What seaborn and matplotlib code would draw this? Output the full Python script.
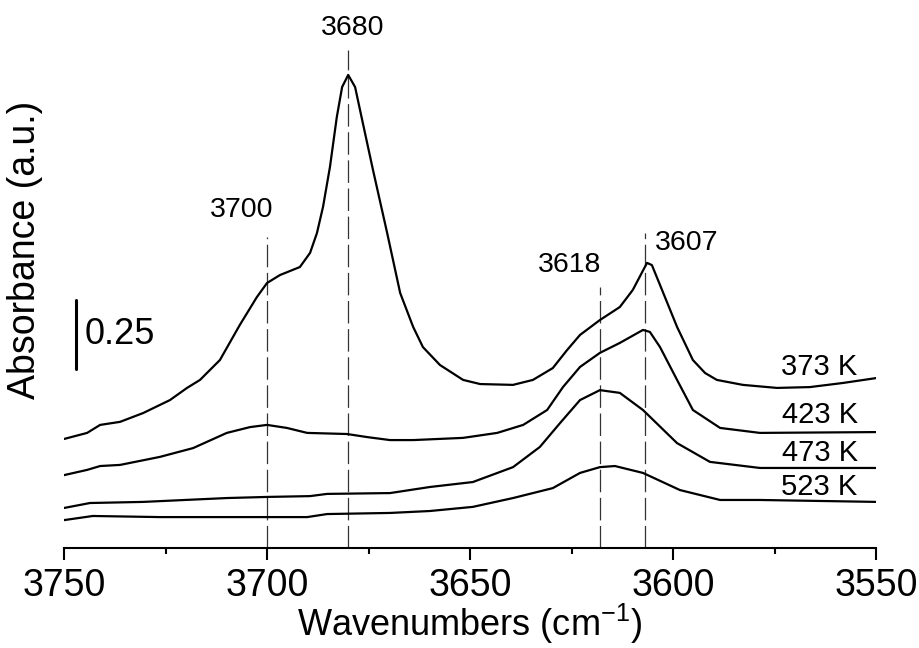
import numpy as np
import pandas as pd
import matplotlib
matplotlib.use("Agg")
import matplotlib.pyplot as plt
import seaborn as sns

# ---------------- data ----------------
wn_373 = [3750.0, 3744.3, 3741.1, 3736.2, 3730.5, 3723.9, 3719.7, 3716.5, 3711.6, 3706.7,
          3702.5, 3700.0, 3696.8, 3691.9, 3689.4, 3687.7, 3686.2, 3684.5, 3682.8, 3681.5,
          3680.0, 3678.3, 3676.4, 3673.9, 3670.4, 3667.2, 3664.0, 3661.6, 3657.4, 3651.7,
          3647.5, 3639.4, 3634.5, 3629.6, 3626.1, 3622.9, 3618.0, 3613.1, 3609.9, 3606.4,
          3605.2, 3603.2, 3599.0, 3595.1, 3592.1, 3589.2, 3582.8, 3574.4, 3566.3, 3558.1,
          3549.8]
ab_373 = [0.395, 0.417, 0.446, 0.457, 0.489, 0.536, 0.580, 0.609, 0.681, 0.808,
          0.909, 0.960, 0.989, 1.018, 1.069, 1.141, 1.236, 1.380, 1.562, 1.670,
          1.714, 1.670, 1.540, 1.370, 1.141, 0.924, 0.801, 0.728, 0.663, 0.609,
          0.594, 0.591, 0.609, 0.652, 0.717, 0.772, 0.826, 0.873, 0.935, 1.033,
          1.025, 0.953, 0.801, 0.681, 0.634, 0.609, 0.591, 0.580, 0.583, 0.598,
          0.616]

wn_423 = [3750.0, 3744.3, 3741.1, 3736.2, 3726.4, 3718.2, 3709.9, 3704.2, 3700.0, 3695.1,
          3690.1, 3680.3, 3675.4, 3669.7, 3664.0, 3651.7, 3643.3, 3636.9, 3631.0, 3627.1,
          3622.9, 3618.0, 3613.1, 3607.4, 3605.7, 3603.2, 3599.0, 3595.1, 3588.4, 3578.6,
          3549.8]
ab_423 = [0.264, 0.283, 0.297, 0.301, 0.330, 0.362, 0.417, 0.438, 0.446, 0.435,
          0.417, 0.413, 0.402, 0.391, 0.391, 0.399, 0.417, 0.446, 0.500, 0.583,
          0.656, 0.707, 0.743, 0.790, 0.783, 0.728, 0.609, 0.500, 0.435, 0.417,
          0.420]

wn_473 = [3750.0, 3743.6, 3730.5, 3709.9, 3700.0, 3689.4, 3685.2, 3669.7, 3659.9, 3649.3,
          3639.4, 3632.8, 3627.8, 3622.9, 3618.0, 3613.1, 3607.4, 3599.0, 3590.9, 3578.6,
          3549.8]
ab_473 = [0.145, 0.163, 0.167, 0.181, 0.185, 0.188, 0.196, 0.199, 0.221, 0.239,
          0.293, 0.366, 0.453, 0.536, 0.572, 0.562, 0.500, 0.380, 0.312, 0.290,
          0.290]

wn_523 = [3750.0, 3742.9, 3726.4, 3690.1, 3685.2, 3669.7, 3659.9, 3649.3, 3639.4, 3629.6,
          3622.9, 3618.0, 3614.3, 3607.4, 3598.3, 3588.4, 3578.6, 3549.8]
ab_523 = [0.101, 0.116, 0.112, 0.112, 0.123, 0.127, 0.134, 0.149, 0.181, 0.217,
          0.272, 0.293, 0.297, 0.272, 0.210, 0.174, 0.174, 0.167]

temps = ["373 K", "423 K", "473 K", "523 K"]
temp_label_y = [0.656, 0.482, 0.344, 0.221]

peak_pos = [3700, 3680, 3618, 3607]
peak_line_top = [1.127, 1.804, 0.946, 1.141]
peak_label_x = [3706.2, 3678.8, 3625.4, 3596.6]
peak_label_y = [1.225, 1.884, 1.025, 1.105]

x_ticks = [3750, 3700, 3650, 3600, 3550]
x_minor = [3725, 3675, 3625, 3575]

scale_bar_x = 3747.0
scale_bar_y = (0.649, 0.899)   # 0.25 a.u.
scale_bar_text = "0.25"

# ---------------- build table ----------------
frames = []
for t, w, a in zip(temps, [wn_373, wn_423, wn_473, wn_523], [ab_373, ab_423, ab_473, ab_523]):
    frames.append(pd.DataFrame({"wn": w, "ab": a, "T": t}))
df = pd.concat(frames, ignore_index=True)

# ---------------- figure ----------------
sns.set_theme(style="white")
plt.rcParams["font.family"] = ["Liberation Sans", "DejaVu Sans"]
plt.rcParams["mathtext.fontset"] = "custom"
plt.rcParams["mathtext.rm"] = "Liberation Sans"
plt.rcParams["mathtext.it"] = "Liberation Sans:italic"
plt.rcParams["text.color"] = "black"
plt.rcParams["axes.labelcolor"] = "black"
plt.rcParams["xtick.color"] = "black"
plt.rcParams["xtick.labelcolor"] = "black"

fig = plt.figure(figsize=(9.2, 6.48), dpi=100)
ax = fig.add_axes([64 / 920, 100 / 648, 812 / 920, 528 / 648])

sns.lineplot(data=df, x="wn", y="ab", hue="T", palette=["black"] * 4,
             legend=False, linewidth=1.6, sort=False, estimator=None, ax=ax)

ax.set_xlim(3750, 3550)
ax.set_ylim(0, 1.913)

# dashed peak markers
for p, top in zip(peak_pos, peak_line_top):
    ax.plot([p, p], [0, top], color="#333333", linewidth=0.9,
            linestyle=(0, (18, 4.5)), zorder=1)
for p, lx, ly in zip(peak_pos, peak_label_x, peak_label_y):
    ax.text(lx, ly, str(p), ha="center", va="center", fontsize=20.5, color="black")

# temperature labels
for t, ty in zip(temps, temp_label_y):
    ax.text(3554.5, ty, t, ha="right", va="center", fontsize=21, color="black")

# scale bar
ax.plot([scale_bar_x, scale_bar_x], list(scale_bar_y), color="black", linewidth=2.2)
ax.text(scale_bar_x - 2.0, sum(scale_bar_y) / 2, scale_bar_text, ha="left", va="center",
        fontsize=26, color="black")

# axes styling
for s in ["top", "right", "left"]:
    ax.spines[s].set_visible(False)
ax.spines["bottom"].set_linewidth(1.5)
ax.spines["bottom"].set_color("black")
ax.set_yticks([])
ax.set_xticks(x_ticks)
ax.set_xticks(x_minor, minor=True)
ax.set_xticklabels([str(v) for v in x_ticks])
ax.tick_params(axis="x", which="major", direction="out", length=8.5, width=1.5,
               labelsize=27, pad=6, color="black", labelcolor="black", bottom=True)
ax.tick_params(axis="x", which="minor", direction="out", length=4.5, width=1.5,
               color="black", bottom=True)
ax.set_xlabel("Wavenumbers (cm$^{-1}$)", fontsize=26, labelpad=-2, color="black")
ax.set_ylabel("Absorbance (a.u.)", fontsize=27, color="black")
ax.yaxis.set_label_coords(-21 / 812, (548 - 250) / 528)

fig.savefig("out.png", dpi=100)
